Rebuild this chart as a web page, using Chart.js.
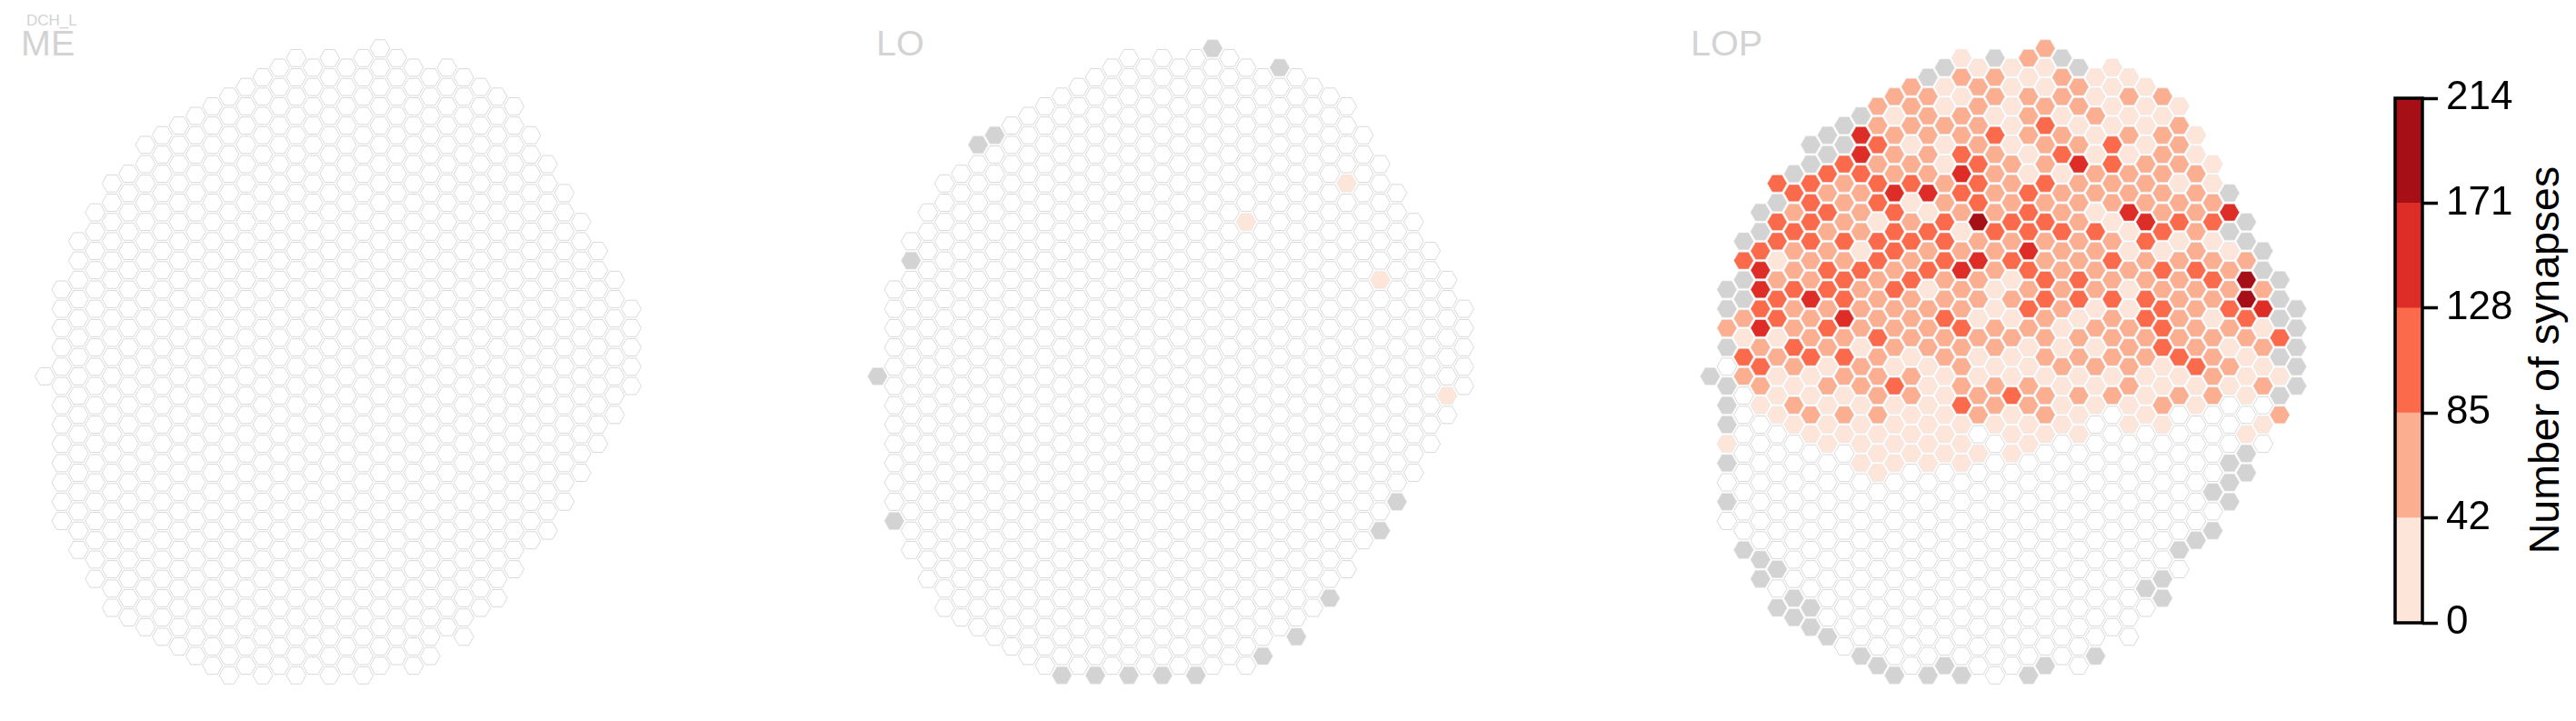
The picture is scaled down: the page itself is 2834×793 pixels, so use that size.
<!DOCTYPE html>
<html>
<head>
<meta charset="utf-8">
<title>DCH_L synapses</title>
<script src="https://cdn.jsdelivr.net/npm/chart.js@4"></script>
<style>
	html, body { margin: 0; background: #fff; width: 2834px; height: 793px; overflow: hidden; }
	body { position: relative; font-family: 'Liberation Sans', Arial, sans-serif; }
	canvas { position: absolute; }
	.panel-title { position: absolute; color: #d3d3d3; font-size: 39.5px; line-height: 1; }
	.cell-type { position: absolute; left: 29px; top: 14px; color: #d3d3d3; font-size: 17px; line-height: 1; }
	.cbar-label { position: absolute; left: 2799px; top: 396px; color: #000; font-size: 46.5px; line-height: 1; white-space: nowrap; transform: translate(-50%, -50%) rotate(-90deg); }
</style>
</head>
<body>
<div class="cell-type">DCH_L</div>
<div class="panel-title" style="left:23px;top:28px">ME</div>
<div class="panel-title" style="left:964px;top:28px">LO</div>
<div class="panel-title" style="left:1860px;top:28px">LOP</div>
<div class="cbar-label">Number of synapses</div>
<canvas id="meChart" width="682" height="732" style="left:31px;top:32px"></canvas>
<canvas id="loChart" width="682" height="732" style="left:947px;top:32px"></canvas>
<canvas id="lopChart" width="682" height="732" style="left:1863px;top:32px"></canvas>
<canvas id="colorbar" width="234" height="680" style="left:2600px;top:60px"></canvas>
<script>
// hex lattice: one entry per column, in half-row units, same for all three neuropils
const colTop = [34, 25, 20, 17, 14, 13, 10, 9, 8, 7, 6, 5, 4, 3, 2, 1, 2, 1, 2, 1, 0, 1, 2, 3, 2, 3, 4, 5, 6, 9, 12, 15, 18, 21, 24, 27];
const colBottom = [34, 49, 52, 55, 58, 59, 60, 61, 62, 63, 64, 65, 64, 65, 64, 65, 64, 65, 64, 65, 64, 63, 64, 63, 60, 61, 58, 57, 54, 51, 50, 47, 44, 41, 38, 35];

const tickLabels = ['0', '42', '85', '128', '171', '214'];
const binColors = ['#fee5d9', '#fcae91', '#fb6a4a', '#de2d26', '#a50f15'];
const binValues = { g: 0, 1: 21, 2: 63, 3: 106, 4: 149, 5: 192 };

// LO: [column, half-row] of the few non empty hexes
const loZero = [[20, 0], [24, 2], [7, 9], [6, 10], [2, 22], [0, 34], [1, 49], [31, 47], [30, 50], [27, 57], [25, 61], [23, 63], [11, 65], [13, 65], [15, 65], [17, 65], [19, 65]];
const loLow = [[28, 14], [22, 18], [30, 24], [34, 36]];

// LOP: per column from its top hex, g = zero, 1-5 = colour bin, . = empty, rest of the column empty
const lopColumns = [
	'g',
	'gg2g.ggg1g.g.',
	'g3gg2132',
	'gg344342321',
	'3g33123312111',
	'g3232232232121',
	'gg33332242231121',
	'gg323223323212111',
	'gg322232334232121',
	'g443222132221221111',
	'22323313322232222111',
	'21222433323222131111',
	'22212312323222122111',
	'g22222413231222111111',
	'g11211223332232211111',
	'1212234321242232223111',
	'1222233352422121122.1',
	'g2213222232211221221',
	'111112223231212113111',
	'212221133343232112211',
	'211232232322332221221',
	'g2212312232222112111',
	'g2212422222331221211',
	'112112213222121211',
	'111133221232322212',
	'1212122411211222211',
	'111122243223322111',
	'212222231323331121',
	'1222123122222312',
	'112222232222311',
	'1123123212222',
	'g4g12232121',
	'gg25532111.1',
	'gg241212.1.',
	'ggg3g1g2',
	'ggggg',
];
const lopLowerZero = [[2, 52], [3, 53], [3, 55], [4, 54], [4, 58], [5, 57], [5, 59], [6, 58], [6, 60], [7, 61], [9, 63], [10, 64], [11, 65], [13, 65], [14, 64], [15, 65], [19, 65], [20, 64], [23, 63], [26, 56], [27, 55], [27, 57], [28, 52], [29, 51], [30, 46], [30, 50], [31, 43], [31, 45], [31, 47], [32, 42], [32, 44]];

const hexRadius = 10.9;

const colorForValue = (value) => {
	if (value === null) {
		return '#ffffff';
	}
	if (value === 0) {
		return '#d3d3d3';
	}
	const edges = tickLabels.map(Number);
	const bin = edges.findIndex((edge, i) => value >= edge && value < edges[i + 1]);
	return binColors[bin];
};

const buildPoints = (columns, overrides) => {
	const points = [];
	colTop.forEach((top, col) => {
		const bins = columns[col] || '';
		for (let row = top, i = 0; row <= colBottom[col]; row += 2, i++) {
			const bin = bins[i];
			const value = bin === undefined || bin === '.' ? null : binValues[bin];
			points.push({ x: col, y: row, v: value });
		}
	});
	overrides.forEach(({ cells, value }) => {
		cells.forEach(([col, row]) => {
			points.find((p) => p.x === col && p.y === row).v = value;
		});
	});
	return points;
};

// the scatter points stay invisible, each one gets a hexagon at the place the scales gave it
const hexMarks = {
	id: 'hexMarks',
	afterDatasetsDraw(chart) {
		const { ctx } = chart;
		const meta = chart.getDatasetMeta(0);
		ctx.save();
		meta.data.forEach((point, index) => {
			const { v } = chart.data.datasets[0].data[index];
			const fill = colorForValue(v);
			ctx.beginPath();
			for (let i = 0; i < 6; i++) {
				const angle = i * Math.PI / 3;
				ctx.lineTo(point.x + hexRadius * Math.cos(angle), point.y + hexRadius * Math.sin(angle));
			}
			ctx.closePath();
			ctx.fillStyle = fill;
			ctx.fill();
			ctx.lineWidth = v === null ? 1 : 0.6;
			ctx.strokeStyle = v === null ? '#d9d9d9' : '#e6e6e6';
			ctx.stroke();
		});
		ctx.restore();
	},
};

const buildHexChart = (canvasId, points) => new Chart(document.getElementById(canvasId), {
	type: 'scatter',
	data: {
		datasets: [{
			data: points,
			pointRadius: 0,
		}],
	},
	options: {
		responsive: false,
		animation: false,
		events: [],
		layout: { autoPadding: false },
		plugins: { legend: { display: false }, tooltip: { enabled: false } },
		scales: {
			x: { type: 'linear', display: false, min: -1, max: 36 },
			y: { type: 'linear', display: false, min: -2, max: 67, reverse: true },
		},
	},
	plugins: [hexMarks],
});

buildHexChart('meChart', buildPoints([], []));
buildHexChart('loChart', buildPoints([], [
	{ cells: loZero, value: 0 },
	{ cells: loLow, value: 21 },
]));
buildHexChart('lopChart', buildPoints(lopColumns, [{ cells: lopLowerZero, value: 0 }]));

const colorbarFrame = {
	id: 'colorbarFrame',
	afterDatasetsDraw(chart) {
		const { ctx, chartArea } = chart;
		ctx.save();
		ctx.strokeStyle = '#000';
		ctx.lineWidth = 3.5;
		ctx.strokeRect(chartArea.left, chartArea.top, chartArea.right - chartArea.left, chartArea.bottom - chartArea.top);
		ctx.restore();
	},
};

new Chart(document.getElementById('colorbar'), {
	type: 'bar',
	data: {
		labels: ['synapses'],
		datasets: binColors.map((color, i) => ({
			data: [[i, i + 1]],
			backgroundColor: color,
			barPercentage: 1,
			categoryPercentage: 1,
		})),
	},
	options: {
		responsive: false,
		animation: false,
		events: [],
		layout: { padding: { left: 35, top: 48, bottom: 55, right: 0 } },
		plugins: { legend: { display: false }, tooltip: { enabled: false } },
		scales: {
			x: { display: false, stacked: true },
			y: {
				position: 'right',
				min: 0,
				max: 5,
				afterFit: (scale) => { scale.width = 169; },
				border: { color: '#000', width: 0 },
				grid: { drawOnChartArea: false, tickLength: 17, tickWidth: 3.5, tickColor: '#000' },
				ticks: {
					stepSize: 1,
					autoSkip: false,
					padding: 9,
					color: '#000',
					font: { family: "'Liberation Sans', Arial, sans-serif", size: 44 },
					callback: (value) => tickLabels[value],
				},
			},
		},
	},
	plugins: [colorbarFrame],
});
</script>
</body>
</html>
